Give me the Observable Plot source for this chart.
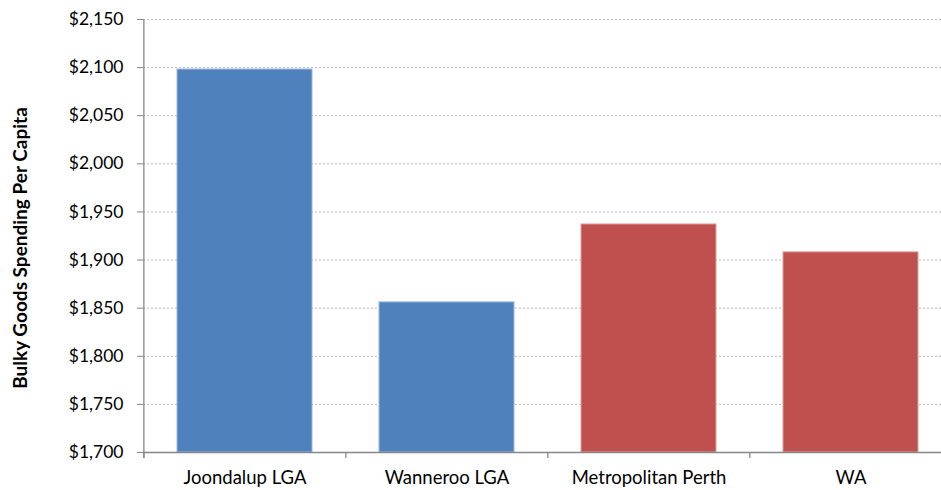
<!DOCTYPE html>
<html><head><meta charset="utf-8">
<script src="https://cdn.jsdelivr.net/npm/d3@7"></script>
<script src="https://cdn.jsdelivr.net/npm/@observablehq/plot@0.6"></script>
<style>html,body{margin:0;padding:0;background:#fff;}</style>
</head><body><div id="chart"></div>
<script>
const categories = ["Joondalup LGA", "Wanneroo LGA", "Metropolitan Perth", "WA"];
const values = [2098, 1856, 1937, 1908];
const groups = ["LGA", "LGA", "Region", "Region"];
const groupColors = ["#4F81BD", "#C0504D"];
const yTicks = [1700, 1750, 1800, 1850, 1900, 1950, 2000, 2050, 2100, 2150];
const yLabel = "Bulky Goods Spending Per Capita";

const data = categories.map((c, i) => ({category: c, value: values[i], group: groups[i]}));

const W = 941, H = 490;
const mL = 143, mT = 19, mB = 38;
const xRange = [mL, 952];
const pIn = 0.33, pOut = 0.165;
const step = (xRange[1] - xRange[0]) / (categories.length - pIn + 2 * pOut);
const base = yTicks[0];

const chart = Plot.plot({
  width: W, height: H,
  marginLeft: mL, marginRight: 0, marginTop: mT, marginBottom: mB,
  style: {fontFamily: "Lato, 'Open Sans', sans-serif", fontSize: "17px", color: "#000", background: "#fff"},
  x: {domain: categories, range: xRange, paddingInner: pIn, paddingOuter: pOut, label: null},
  y: {domain: [yTicks[0], yTicks[yTicks.length - 1]], label: null},
  color: {domain: ["LGA", "Region"], range: groupColors},
  marks: [
    Plot.gridY(yTicks, {stroke: "#b8b8b8", strokeOpacity: 1, strokeDasharray: "2,2", strokeWidth: 1}),
    Plot.barY(data, {x: "category", y1: d => base, y2: "value", fill: "group", stroke: d => d.group === "LGA" ? "#9db8dc" : "#dca09e", strokeWidth: 1, inset: 0}),
    Plot.ruleY([base], {stroke: "#868686", strokeWidth: 1.3}),
    Plot.ruleX([categories[0]], {x: d => d, dx: -step / 2, stroke: "#868686", strokeWidth: 1.3, insetBottom: -6}),
    Plot.ruleX(categories, {x: d => d, y1: d => base, y2: d => base, dx: -step / 2, stroke: "#868686", strokeWidth: 1.3, insetBottom: -6}),
    Plot.axisY({ticks: yTicks, tickSize: 6, tickPadding: 14, stroke: "#868686", tickFormat: d => "$" + d3.format(",")(d), label: null, fill: "#000", fontSize: 17.5}),
    Plot.axisX({tickSize: 0, tickPadding: 18, label: null, fill: "#000", fontSize: 18.5}),
    Plot.text([yLabel], {frameAnchor: "left", textAnchor: "middle", rotate: -90, dx: -123, dy: 12, fontWeight: "bold", fontSize: 19, fill: "#000"})
  ]
});
document.getElementById("chart").appendChild(chart);
</script>
</body></html>
